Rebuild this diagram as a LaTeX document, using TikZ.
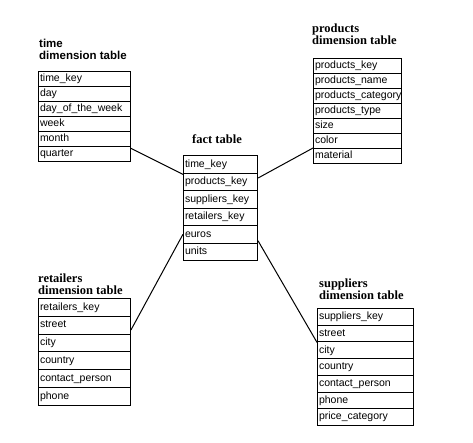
\documentclass[tikz,border=0pt]{standalone}
\usepackage{fontspec}
\setmainfont{Liberation Sans}
\newfontfamily\titleserif{Liberation Serif}
\usetikzlibrary{calc}
\tikzset{
  rowbox/.style={draw, line width=1pt, anchor=north west, inner xsep=1.5pt, inner ysep=0pt,
    align=left, text height=7.5pt, text depth=2pt, font=\fontsize{10.5}{12}\selectfont},
  sanstitle/.style={anchor=base west, inner sep=0pt, font=\fontsize{11.5}{13}\selectfont\bfseries},
  seriftitle/.style={anchor=base west, inner sep=0pt, font=\fontsize{12.5}{14}\selectfont\titleserif\bfseries},
  link/.style={draw, line width=1pt}
}
\begin{document}
\begin{tikzpicture}[x=1pt,y=-1pt]
\fill[white] (0,0) rectangle (473,442);
\useasboundingbox (0,0) rectangle (473,442);

% time dimension table
\node[sanstitle] (timeA) at (39,47) {time};
\node[sanstitle] (timeB) at (39,59) {dimension table};
\foreach \t [count=\i] in {time\_key, day, day\_of\_the\_week, week, month, quarter}
  \node[rowbox, text width=89pt, minimum height=15pt] (time\i) at (38,{71+(\i-1)*15}) {\t};

% products dimension table
\node[seriftitle] (prodA) at (312,32) {products};
\node[seriftitle] (prodB) at (312,44) {dimension table};
\foreach \t [count=\i] in {products\_key, products\_name, products\_category, products\_type, size, color, material}
  \node[rowbox, text width=85pt, minimum height=15pt] (prod\i) at (313,{58+(\i-1)*15}) {\t};

% fact table
\node[seriftitle, anchor=base] (factA) at (217,143) {fact table};
\foreach \t [count=\i] in {time\_key, products\_key, suppliers\_key, retailers\_key, euros, units}
  \node[rowbox, text width=71pt, minimum height=17.5pt] (fact\i) at (183,{155+(\i-1)*17.5}) {\t};

% retailers dimension table
\node[seriftitle] (retA) at (38,282) {retailers};
\node[seriftitle] (retB) at (38,294) {dimension table};
\foreach \t [count=\i] in {retailers\_key, street, city, country, contact\_person, phone}
  \node[rowbox, text width=89pt, minimum height=17.8pt] (ret\i) at (38,{298+(\i-1)*17.8}) {\t};

% suppliers dimension table
\node[seriftitle] (supA) at (319,287) {suppliers};
\node[seriftitle] (supB) at (319,299) {dimension table};
\foreach \t [count=\i] in {suppliers\_key, street, city, country, contact\_person, phone, price\_category}
  \node[rowbox, text width=93pt, minimum height=16.7pt] (sup\i) at (317,{308+(\i-1)*16.7}) {\t};

% connectors
\draw[link] ($(time6.north east)!0.15!(time6.south east)$) -- ($(fact2.north west)!0.1!(fact2.south west)$);
\draw[link] ($(fact2.north east)!0.3!(fact2.south east)$) -- (prod7.north west);
\draw[link] (fact5.west) -- ($(ret2.north east)!0.75!(ret2.south east)$);
\draw[link] ($(fact5.north east)!0.85!(fact5.south east)$) -- (sup2.south west);
\end{tikzpicture}
\end{document}
